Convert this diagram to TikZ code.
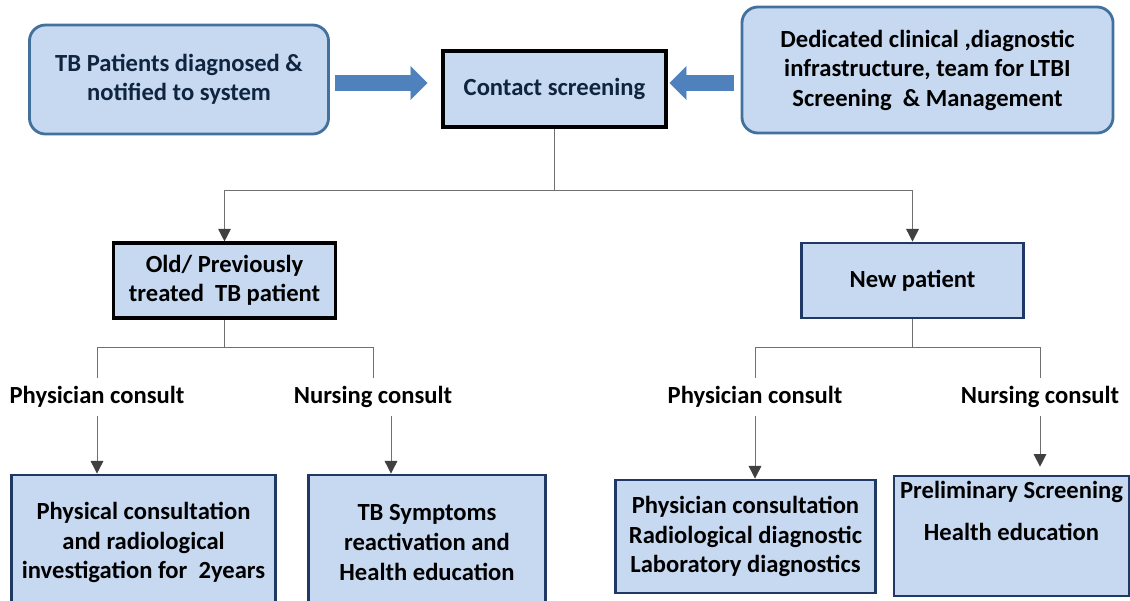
\documentclass[tikz,border=0pt]{standalone}
\usepackage{fontspec}
\setmainfont{Carlito}
\usetikzlibrary{arrows.meta}
\definecolor{boxfill}{HTML}{C6D9F1}
\definecolor{boxedge}{HTML}{41719C}
\definecolor{navy}{HTML}{1F3864}
\definecolor{inkblue}{HTML}{0F243E}
\definecolor{arrowfill}{HTML}{4F81BD}
\definecolor{linegray}{HTML}{707070}
\definecolor{tipgray}{HTML}{404040}

\begin{document}
\begin{tikzpicture}[x=0.025cm, y=-0.025cm,
  every node/.style={font=\bfseries\fontsize{17.5}{21}\selectfont, align=center},
  roundbox/.style={draw=boxedge, fill=boxfill, line width=2pt, rounded corners=0.4cm},
  sharpbox/.style={draw=navy, fill=boxfill, line width=2pt},
  blackbox/.style={draw=black, fill=boxfill, line width=2.2pt},
  lbl/.style={inner sep=0.2cm},
  blockarrow/.style={arrowfill, line width=12pt,
    -{Triangle[width=24pt, length=12pt, line width=0.1pt]}},
]
\useasboundingbox (0,0) rectangle (1130,600);

\node[roundbox, text=inkblue, minimum width=7.475cm, minimum height=2.725cm]
  (tb) at (179,79.5) {TB Patients diagnosed \&\\notified to system};
\node[roundbox, minimum width=9.275cm, minimum height=3.15cm]
  (team) at (927.5,70) {Dedicated clinical ,diagnostic\\infrastructure, team for LTBI\\Screening~ \& Management};
\node[blackbox, text=inkblue, minimum width=5.575cm, minimum height=1.9cm]
  (cs) at (554.5,89) {Contact screening};

\node[blackbox, minimum width=5.55cm, minimum height=1.875cm]
  (old) at (224.5,280.5) {Old/ Previously\\treated~ TB patient};
\node[sharpbox, minimum width=5.55cm, minimum height=1.875cm]
  (new) at (912.5,280.5) {New patient};

\node[lbl] (pc1) at (97,397) {Physician consult};
\node[lbl] (nc1) at (373,397) {Nursing consult};
\node[lbl] (pc2) at (755,397) {Physician consult};
\node[lbl] (nc2) at (1040,397) {Nursing consult};

\node[sharpbox, minimum width=6.6cm, minimum height=3.375cm]
  (care1) at (143.5,542.5) {Physical consultation\\and radiological\\investigation for~ 2years};
\node[sharpbox, minimum width=5.925cm, minimum height=3.375cm]
  (care2) at (427,542.5) {TB Symptoms\\reactivation and\\Health education};
\node[sharpbox, minimum width=6.5cm, minimum height=2.825cm]
  (care3) at (745.5,536.5) {Physician consultation\\Radiological diagnostic\\Laboratory diagnostics};
\node[sharpbox, minimum width=5.875cm, minimum height=2.8cm]
  (care4) at (1011.5,536) {Preliminary Screening\\[9pt]Health education\\[9pt]\strut};

\draw[blockarrow, shorten <=0.125cm, shorten >=0.35cm] (tb.east |- 0,83) -- (cs.west |- 0,83);
\draw[blockarrow, shorten <=0.175cm, shorten >=0.05cm] (team.west |- 0,83) -- (cs.east |- 0,83);

\begin{scope}[linegray, line width=0.7pt, -{Triangle[width=9pt, length=9pt, color=tipgray]}]
  \coordinate (split) at (cs.south |- 0,190);
  \draw[-] (cs.south) -- (split);
  \draw (split) -| (old.north);
  \draw (split) -| (new.north);
  \draw[-] (old.south) -- ++(0,28) -| (pc1.north);
  \draw[-] (old.south) ++(0,28) -| (nc1.north);
  \draw[-] (new.south) -- ++(0,28) -| (pc2.north);
  \draw[-] (new.south) ++(0,28) -| (nc2.north);
  \draw (pc1.south) -- (pc1.south |- care1.north);
  \draw ([xshift=0.45cm]nc1.south) -- ([xshift=0.45cm]nc1.south |- care2.north);
  \draw (pc2.south) -- (pc2.south |- care3.north);
  \draw[shorten >=0.2cm] (nc2.south) -- (nc2.south |- care4.north);
\end{scope}

\end{tikzpicture}
\end{document}
